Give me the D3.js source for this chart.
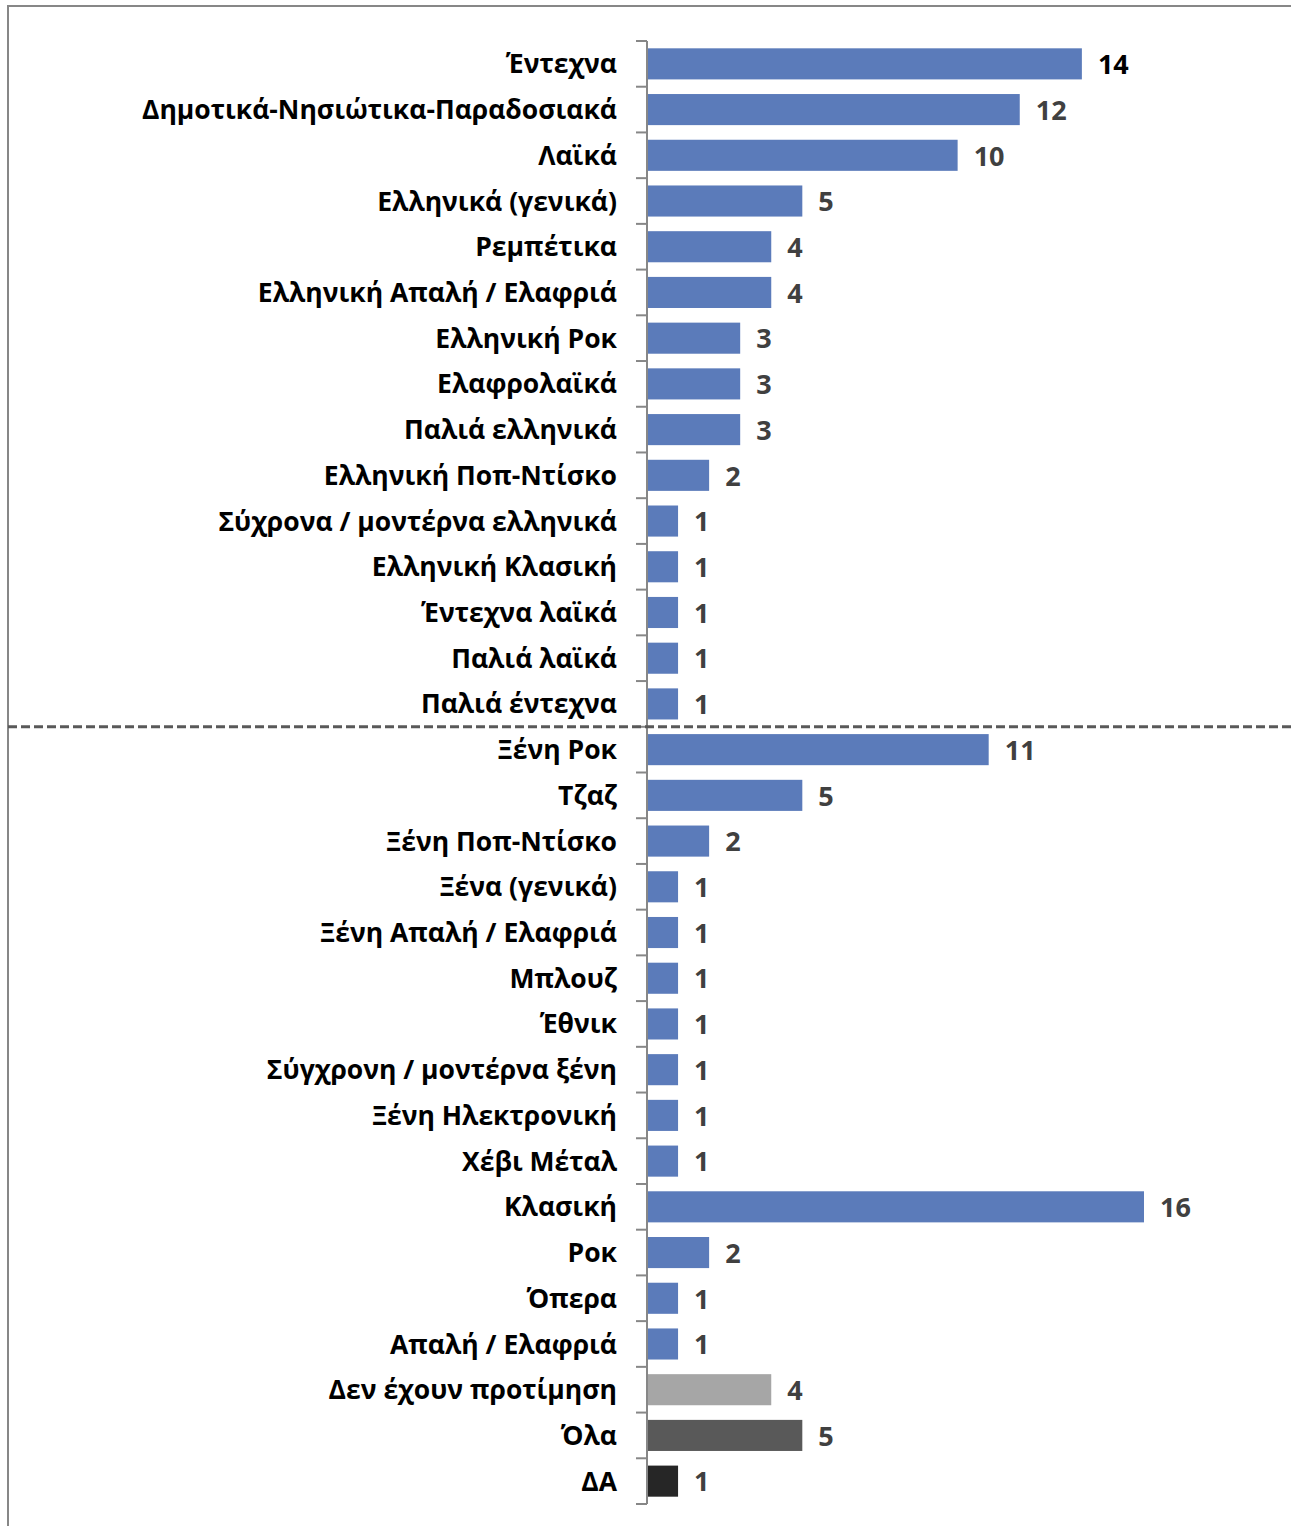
<!DOCTYPE html>
<html>
<head>
<meta charset="utf-8">
<script src="https://cdn.jsdelivr.net/npm/d3@7"></script>
<style>
  body { margin: 0; background: #fff; }
  text { font-family: "Open Sans", sans-serif; font-weight: bold; }
</style>
</head>
<body>
<svg id="chart"></svg>
<script>
// Music genre preferences, greek first, then foreign and the rest

const categories = [
  "Έντεχνα", "Δημοτικά-Νησιώτικα-Παραδοσιακά", "Λαϊκά", "Ελληνικά (γενικά)",
  "Ρεμπέτικα", "Ελληνική Απαλή / Ελαφριά", "Ελληνική Ροκ", "Ελαφρολαϊκά",
  "Παλιά ελληνικά", "Ελληνική Ποπ-Ντίσκο", "Σύχρονα / μοντέρνα ελληνικά",
  "Ελληνική Κλασική", "Έντεχνα λαϊκά", "Παλιά λαϊκά", "Παλιά έντεχνα",
  "Ξένη Ροκ", "Τζαζ", "Ξένη Ποπ-Ντίσκο", "Ξένα (γενικά)", "Ξένη Απαλή / Ελαφριά",
  "Μπλουζ", "Έθνικ", "Σύγχρονη / μοντέρνα ξένη", "Ξένη Ηλεκτρονική", "Χέβι Μέταλ",
  "Κλασική", "Ροκ", "Όπερα", "Απαλή / Ελαφριά", "Δεν έχουν προτίμηση", "Όλα", "ΔΑ"
]
const values = [
  14, 12, 10, 5, 4, 4, 3, 3, 3, 2, 1, 1, 1, 1, 1,
  11, 5, 2, 1, 1, 1, 1, 1, 1, 1, 16, 2, 1, 1, 4, 5, 1
]
// the greek group ends here, a dashed line goes under it
const lastGreek = "Παλιά έντεχνα"
// answers that are not a genre get grey bars
const otherAnswers = ["Δεν έχουν προτίμηση", "Όλα", "ΔΑ"]

const data = categories.map((c, i) => ({ cat: c, val: values[i] }))

const width = 1291
const height = 1526
const axisX = 647

const svg = d3.select("#chart").attr("width", width).attr("height", height)

// outer frame, only left and top edges are inside the picture
svg.append("rect")
  .attr("x", 8).attr("y", 6)
  .attr("width", 1320).attr("height", 1560)
  .attr("fill", "none")
  .attr("stroke", "#878787")
  .attr("stroke-width", 2)

const y = d3.scaleBand()
  .domain(categories)
  .range([41, 1504])
  .paddingInner(0.32)
  .paddingOuter(0.16)

const x = d3.scaleLinear().domain([0, 16]).range([axisX, axisX + 497])

const color = d3.scaleOrdinal()
  .domain(otherAnswers)
  .range(["#a6a6a6", "#595959", "#262626"])
  .unknown("#5b7bba")

// bars
svg.selectAll("rect.bar")
  .data(data)
  .enter()
  .append("rect")
  .attr("class", "bar")
  .attr("x", x(0) + 1)
  .attr("y", d => y(d.cat))
  .attr("width", d => x(d.val) - x(0) - 1)
  .attr("height", y.bandwidth())
  .attr("fill", d => color(d.cat))

// category axis: line plus ticks between the bars
const edge = y.step() * y.paddingOuter()
const bounds = categories.map(c => y(c) - edge).concat([y.range()[1]])

svg.append("line")
  .attr("x1", axisX).attr("x2", axisX)
  .attr("y1", bounds[0]).attr("y2", bounds[bounds.length - 1])
  .attr("stroke", "#878787").attr("stroke-width", 2)

svg.selectAll("line.tick")
  .data(bounds)
  .enter()
  .append("line")
  .attr("class", "tick")
  .attr("x1", axisX - 11).attr("x2", axisX)
  .attr("y1", d => d).attr("y2", d => d)
  .attr("stroke", "#878787").attr("stroke-width", 2)

// category labels
svg.selectAll("text.cat")
  .data(data)
  .enter()
  .append("text")
  .attr("class", "cat")
  .attr("x", 617)
  .attr("y", d => y(d.cat) + y.bandwidth() / 2)
  .attr("dy", "0.36em")
  .attr("text-anchor", "end")
  .style("font-size", "26.5px")
  .attr("fill", "#000")
  .text(d => d.cat)

// value labels
svg.selectAll("text.val")
  .data(data)
  .enter()
  .append("text")
  .attr("class", "val")
  .attr("x", d => x(d.val) + 16)
  .attr("y", d => y(d.cat) + y.bandwidth() / 2)
  .attr("dy", "0.38em")
  .style("font-size", "27px")
  .attr("fill", (d, i) => i === 0 ? "#000" : "#404040")
  .text(d => d.val)

// dashed separator between greek and foreign genres
const sepY = y(lastGreek) + y.bandwidth() + edge
svg.append("line")
  .attr("x1", 8).attr("x2", width)
  .attr("y1", sepY).attr("y2", sepY)
  .attr("stroke", "#595959")
  .attr("stroke-width", 3)
  .attr("stroke-dasharray", "9,4")
</script>
</body>
</html>
